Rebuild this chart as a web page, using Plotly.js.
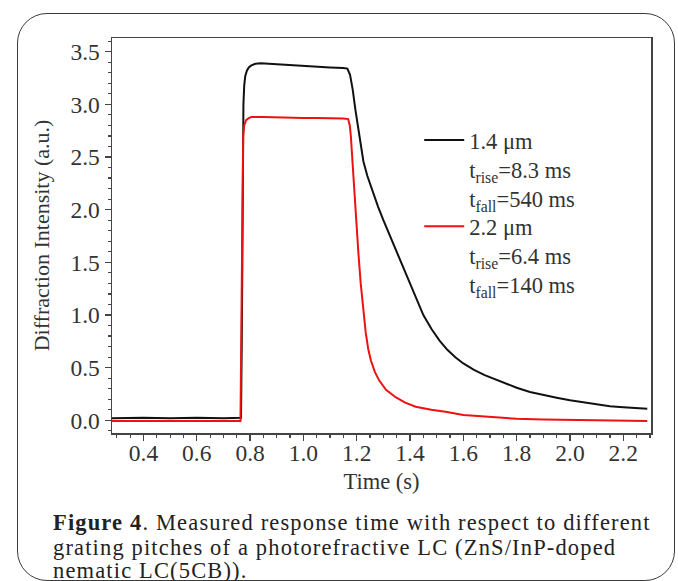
<!DOCTYPE html>
<html>
<head>
<meta charset="utf-8">
<script src="https://cdn.plot.ly/plotly-3.0.1.min.js"></script>
<style>
  html, body { margin: 0; padding: 0; background: #ffffff; }
  #wrap { position: relative; width: 678px; height: 581px; overflow: hidden; }
  #frame { position: absolute; left: 17px; top: 13px; width: 658px; height: 568px;
           border: 1.5px solid #3a3a3a; border-radius: 30px; box-sizing: border-box; }
  #chart { position: absolute; left: 0; top: 0; width: 678px; height: 581px; }
  #chart .annotation-text { letter-spacing: 1.15px; }
</style>
</head>
<body>
<div id="wrap">
  <div id="frame"></div>
  <div id="chart"></div>
</div>
<script>
// ---- data ----
const tBlack = [0.28,0.40,0.50,0.60,0.70,0.766,0.769,0.771,0.773,0.775,0.778,0.782,0.788,0.795,0.805,0.82,0.84,0.87,0.90,0.95,1.00,1.05,1.10,1.15,1.165,1.175,1.185,1.195,1.205,1.215,1.225,1.24,1.26,1.28,1.30,1.33,1.36,1.39,1.42,1.45,1.48,1.51,1.54,1.57,1.60,1.64,1.68,1.72,1.76,1.80,1.85,1.90,1.95,2.00,2.05,2.10,2.15,2.20,2.25,2.29];
const vBlack = [0.02,0.025,0.02,0.025,0.02,0.025,0.8,1.8,2.6,3.0,3.18,3.27,3.32,3.35,3.37,3.385,3.39,3.385,3.38,3.37,3.365,3.36,3.35,3.345,3.34,3.28,3.14,2.95,2.78,2.60,2.46,2.32,2.17,2.03,1.90,1.72,1.54,1.36,1.17,1.00,0.87,0.76,0.67,0.60,0.54,0.48,0.43,0.39,0.35,0.31,0.27,0.24,0.215,0.19,0.17,0.15,0.135,0.125,0.115,0.11];

const tRed = [0.28,0.40,0.50,0.60,0.70,0.764,0.767,0.769,0.771,0.774,0.778,0.785,0.795,0.805,0.85,0.90,0.95,1.00,1.05,1.10,1.15,1.168,1.174,1.178,1.187,1.197,1.206,1.215,1.225,1.234,1.243,1.253,1.268,1.284,1.31,1.346,1.38,1.421,1.48,1.539,1.60,1.70,1.80,1.90,2.00,2.10,2.20,2.29];
const vRed = [-0.005,-0.005,-0.01,-0.005,-0.005,-0.005,0.8,1.7,2.4,2.7,2.8,2.85,2.87,2.88,2.88,2.875,2.875,2.87,2.87,2.87,2.865,2.86,2.80,2.70,2.33,1.93,1.60,1.30,1.04,0.83,0.68,0.57,0.46,0.38,0.29,0.22,0.17,0.13,0.10,0.08,0.05,0.03,0.015,0.008,0.003,0.0,-0.005,-0.005];

const seriesNames = [
  "1.4 μm<br>t<sub>rise</sub>=8.3 ms<br>t<sub>fall</sub>=540 ms",
  "2.2 μm<br>t<sub>rise</sub>=6.4 ms<br>t<sub>fall</sub>=140 ms"
];
const seriesColors = ["#111111", "#ee1111"];

const xTickVals = [0.4,0.6,0.8,1.0,1.2,1.4,1.6,1.8,2.0,2.2];
const xTickText = ["0.4","0.6","0.8","1.0","1.2","1.4","1.6","1.8","2.0","2.2"];
const yTickVals = [0.0,0.5,1.0,1.5,2.0,2.5,3.0,3.5];
const yTickText = ["0.0","0.5","1.0","1.5","2.0","2.5","3.0","3.5"];

const captionLines = [
  "<b>Figure 4</b>. Measured response time with respect to different",
  "grating pitches of a photorefractive LC (ZnS/InP-doped",
  "nematic LC(5CB))."
];

// ---- chart ----
const FONT = "Liberation Serif, Times New Roman, serif";
const traces = [
  {x: tBlack, y: vBlack, type: "scatter", mode: "lines", name: seriesNames[0],
   line: {color: seriesColors[0], width: 2}, legend: "legend"},
  {x: tRed, y: vRed, type: "scatter", mode: "lines", name: seriesNames[1],
   line: {color: seriesColors[1], width: 2}, legend: "legend2"}
];

const axisCommon = {
  showline: true, mirror: true, linecolor: "#444", linewidth: 1.5,
  ticks: "outside", ticklen: 6, tickwidth: 1.2, tickcolor: "#444",
  showgrid: false, zeroline: false,
  tickfont: {family: FONT, size: 23.5, color: "#333"}
};

const capY = [-0.226, -0.289, -0.349];
const annotations = captionLines.map((txt, i) => ({
  text: txt, xref: "paper", yref: "paper", x: -0.1132, y: capY[i],
  xanchor: "left", yanchor: "middle", align: "left", showarrow: false,
  font: {family: FONT, size: 22.5, color: "#222"}
}));

const legendCommon = {
  xanchor: "left", yanchor: "top", bgcolor: "rgba(0,0,0,0)", borderwidth: 0,
  valign: "top", itemwidth: 40, font: {family: FONT, size: 22.5, color: "#333"}
};

const layout = {
  width: 678, height: 581,
  margin: {l: 112, r: 27, t: 38, b: 148},
  paper_bgcolor: "rgba(0,0,0,0)", plot_bgcolor: "#ffffff",
  showlegend: true,
  legend: Object.assign({}, legendCommon, {x: 0.57, y: 0.795}),
  legend2: Object.assign({}, legendCommon, {x: 0.57, y: 0.577}),
  xaxis: Object.assign({}, axisCommon, {
    range: [0.282, 2.304], tickmode: "array", tickvals: xTickVals, ticktext: xTickText,
    ticklabelstandoff: -8,
    minor: {dtick: 0.05, tick0: 0, ticks: "outside", ticklen: 3, tickcolor: "#444", showgrid: false},
    title: {text: "Time (s)", font: {family: FONT, size: 22.5, color: "#333"}, standoff: 8}
  }),
  yaxis: Object.assign({}, axisCommon, {
    range: [-0.12, 3.63], tickmode: "array", tickvals: yTickVals, ticktext: yTickText,
    minor: {dtick: 0.1, tick0: 0, ticks: "outside", ticklen: 3, tickcolor: "#444", showgrid: false},
    title: {text: "Diffraction Intensity (a.u.)", font: {family: FONT, size: 22, color: "#333"}, standoff: 14}
  }),
  annotations: annotations
};

Plotly.newPlot("chart", traces, layout, {displayModeBar: false, staticPlot: true});
</script>
</body>
</html>
